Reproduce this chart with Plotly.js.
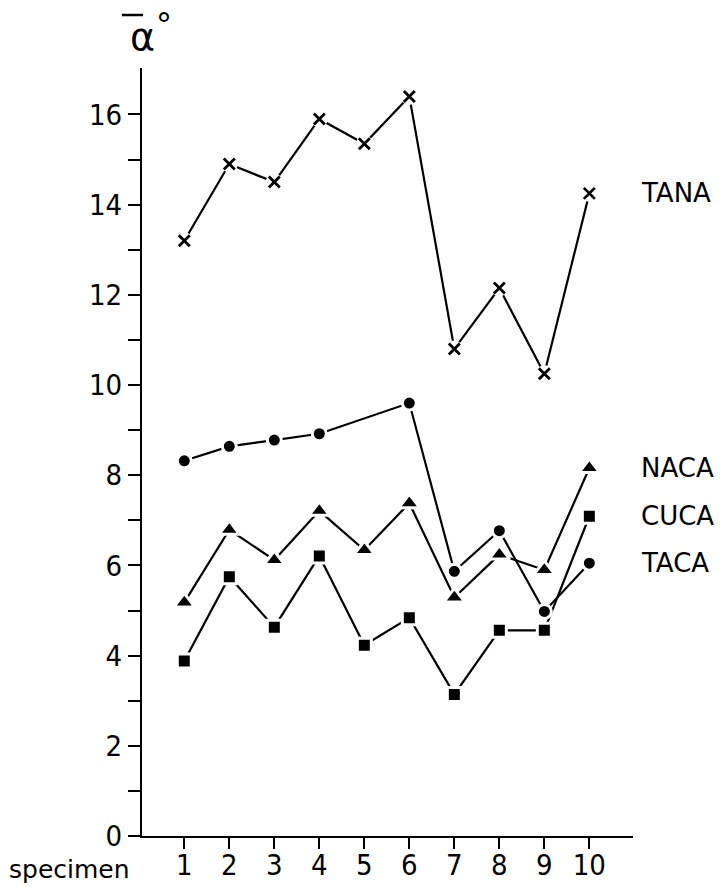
<!DOCTYPE html>
<html>
<head>
<meta charset="utf-8">
<script src="https://cdn.plot.ly/plotly-3.0.1.min.js"></script>
<style>
  html, body { margin: 0; padding: 0; background: #fff; }
  #chart { width: 723px; height: 887px; }
</style>
</head>
<body>
<div id="chart"></div>
<script>
// Mean angle (degrees) per specimen for the four configurations
const specimen = [1, 2, 3, 4, 5, 6, 7, 8, 9, 10];
const tana = [13.2, 14.9, 14.5, 15.9, 15.35, 16.4, 10.8, 12.15, 10.25, 14.25];
const taca = [8.32, 8.64, 8.78, 8.92, null, 9.6, 5.87, 6.77, 4.98, 6.05];
const naca = [5.18, 6.79, 6.12, 7.21, 6.34, 7.38, 5.29, 6.24, 5.9, 8.16];
const cuca = [3.88, 5.75, 4.63, 6.21, 4.23, 4.84, 3.14, 4.56, 4.56, 7.09];

const seriesNames = ['TANA', 'NACA', 'CUCA', 'TACA'];
const yTickVals = [0, 1, 2, 3, 4, 5, 6, 7, 8, 9, 10, 11, 12, 13, 14, 15, 16];
const yTickText = ['0', '', '2', '', '4', '', '6', '', '8', '', '10', '', '12', '', '14', '', '16'];
const xTickText = ['1', '2', '3', '4', '5', '6', '7', '8', '9', '10'];

const digitFont = 'Liberation Sans Narrow, DejaVu Sans Condensed, Arial Narrow, sans-serif';
const textFont = 'DejaVu Sans, sans-serif';
const ink = '#000';

function lineTrace(y) {
  return {
    x: specimen, y: y, mode: 'lines', connectgaps: true,
    line: { color: ink, width: 2.2 }, hoverinfo: 'skip', showlegend: false
  };
}
function markerTrace(y, symbol, size) {
  return {
    x: specimen, y: y, mode: 'markers',
    marker: { symbol: symbol, size: size, color: ink, line: { color: '#fff', width: 3 } },
    showlegend: false, cliponaxis: false
  };
}

const traces = [
  lineTrace(tana), lineTrace(taca), lineTrace(naca), lineTrace(cuca),
  // white halo behind the crosses so the joining lines stop short of them
  { x: specimen, y: tana, mode: 'markers', marker: { symbol: 'circle', size: 17, color: '#fff' },
    showlegend: false, hoverinfo: 'skip', cliponaxis: false },
  { x: specimen, y: tana, mode: 'markers',
    marker: { symbol: 'x-thin-open', size: 11, color: ink, line: { color: ink, width: 2.8 } },
    showlegend: false, cliponaxis: false },
  markerTrace(taca, 'circle', 14),
  markerTrace(naca, 'triangle-up', 18),
  markerTrace(cuca, 'square', 14)
];

const lastVals = [tana[9], naca[9], cuca[9], taca[9]];
const annotations = seriesNames.map((name, i) => ({
  text: name, xref: 'paper', x: 1.012, xanchor: 'left',
  yref: 'y', y: lastVals[i], yanchor: 'middle', showarrow: false,
  font: { family: textFont, size: 26, color: ink }
}));
annotations.push({
  text: 'specimen', xref: 'paper', yref: 'paper', x: -0.275, y: -0.043,
  xanchor: 'left', yanchor: 'middle', showarrow: false,
  font: { family: textFont, size: 25, color: ink }
});
annotations.push({
  text: 'α', xref: 'paper', yref: 'paper', x: 0.002, y: 1.04,
  xanchor: 'center', yanchor: 'middle', showarrow: false,
  font: { family: textFont, size: 38, color: ink }
});
annotations.push({
  text: '°', xref: 'paper', yref: 'paper', x: 0.044, y: 1.056,
  xanchor: 'center', yanchor: 'middle', showarrow: false,
  font: { family: textFont, size: 32, color: ink }
});

const layout = {
  width: 723, height: 887,
  margin: { l: 142, r: 90, t: 68, b: 51 },
  paper_bgcolor: '#fff', plot_bgcolor: '#fff',
  showlegend: false,
  xaxis: {
    range: [0.06, 10.97], tickvals: specimen, ticktext: xTickText,
    ticks: 'outside', ticklen: 11, tickwidth: 2, tickcolor: ink,
    showline: true, linecolor: ink, linewidth: 2, showgrid: false, zeroline: false,
    ticklabelstandoff: -9,
    tickfont: { family: digitFont, size: 29, color: ink }
  },
  yaxis: {
    range: [0, 17.03], tickvals: yTickVals, ticktext: yTickText,
    ticks: 'outside', ticklen: 12, tickwidth: 2, tickcolor: ink,
    showline: true, linecolor: ink, linewidth: 2, showgrid: false, zeroline: false,
    ticklabelstandoff: 0,
    tickfont: { family: digitFont, size: 29, color: ink }
  },
  shapes: [
    // overbar of the mean-angle symbol
    { type: 'line', xref: 'paper', yref: 'paper', x0: -0.041, x1: 0.002, y0: 1.069, y1: 1.069,
      line: { color: ink, width: 2.5 } }
  ],
  annotations: annotations
};

Plotly.newPlot('chart', traces, layout, { displayModeBar: false, staticPlot: true });
</script>
</body>
</html>
